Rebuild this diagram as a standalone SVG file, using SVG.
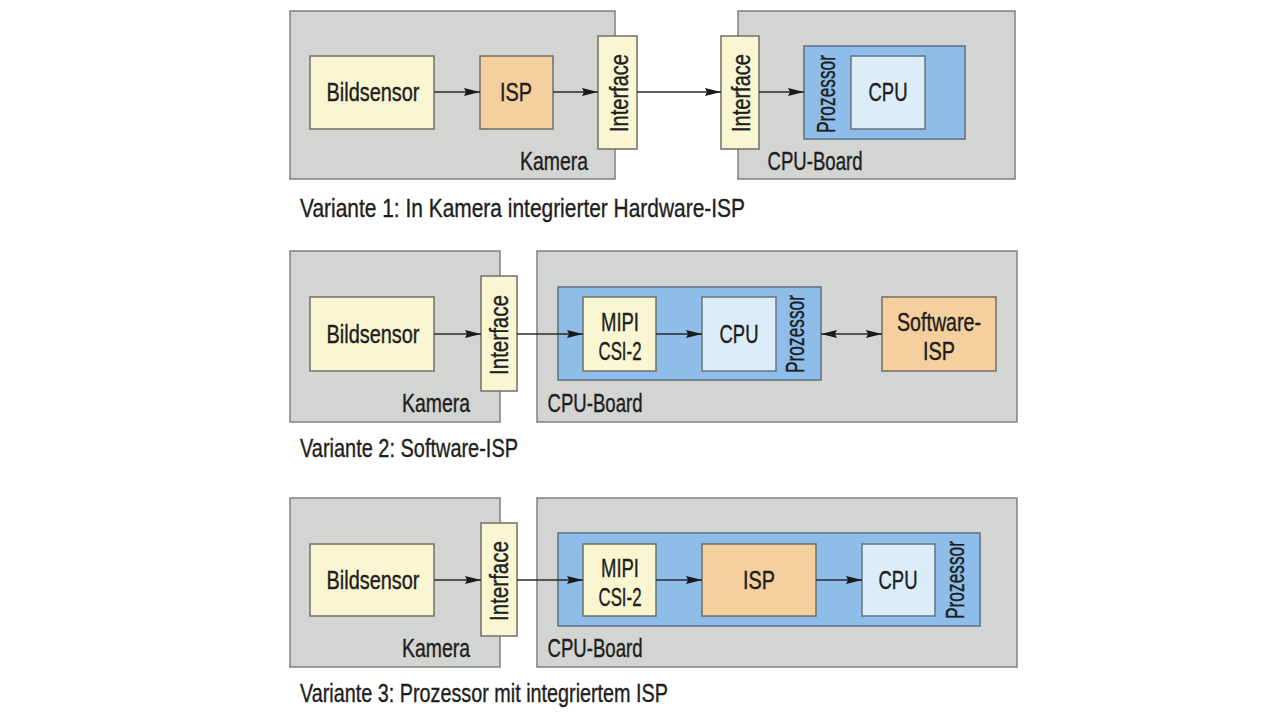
<svg xmlns="http://www.w3.org/2000/svg" width="1280" height="721" viewBox="0 0 1280 721">
<defs>
<style>
.grp{fill:#d3d5d2;stroke:#7f817f;stroke-width:1.5}
.yel{fill:#fbf6d2;stroke:#6f6f6a;stroke-width:1.5}
.org{fill:#f5cf9d;stroke:#6f6f6a;stroke-width:1.5}
.blu{fill:#8fbde9;stroke:#5c6f80;stroke-width:1.5}
.cpu{fill:#dcecf8;stroke:#6a747c;stroke-width:1.5}
.t{font-family:"Liberation Sans Narrow","Liberation Sans",Arial,sans-serif;font-size:26px;fill:#1e1e1e;stroke:#1e1e1e;stroke-width:0.4;text-anchor:middle}
.c{font-family:"Liberation Sans Narrow","Liberation Sans",Arial,sans-serif;font-size:25px;fill:#1e1e1e;stroke:#1e1e1e;stroke-width:0.35}
.ln{stroke:#2a2a2a;stroke-width:1.6;fill:none}
</style>
<marker id="ah" viewBox="0 0 16 8" refX="16" refY="4" markerWidth="16" markerHeight="8" markerUnits="userSpaceOnUse" orient="auto">
<path d="M0,0 L16,4 L0,8 L2,4 Z" fill="#1a1a1a"/>
</marker>
<marker id="as" viewBox="0 0 16 8" refX="0" refY="4" markerWidth="16" markerHeight="8" markerUnits="userSpaceOnUse" orient="auto">
<path d="M16,0 L0,4 L16,8 L14,4 Z" fill="#1a1a1a"/>
</marker>
</defs>
<rect width="1280" height="721" fill="#ffffff"/>

<!-- Variante 1 -->
<g id="v1-kamera">
<rect class="grp" x="290" y="11" width="325" height="168"/>
<text class="t" x="554" y="170" textLength="68" lengthAdjust="spacingAndGlyphs">Kamera</text>
</g>
<g id="v1-board">
<rect class="grp" x="738" y="11" width="277" height="168"/>
<text class="t" x="815" y="170" textLength="95" lengthAdjust="spacingAndGlyphs">CPU-Board</text>
</g>
<g id="v1-bildsensor">
<rect class="yel" x="310" y="56" width="124" height="73"/>
<text class="t" x="373" y="101" textLength="93" lengthAdjust="spacingAndGlyphs">Bildsensor</text>
</g>
<g id="v1-isp">
<rect class="org" x="480" y="56" width="73" height="73"/>
<text class="t" x="516" y="101" textLength="32" lengthAdjust="spacingAndGlyphs">ISP</text>
</g>
<g id="v1-if1">
<rect class="yel" x="598" y="36" width="39" height="113"/>
<text class="t" transform="translate(628,93) rotate(-90)" x="0" y="0" textLength="78" lengthAdjust="spacingAndGlyphs">Interface</text>
</g>
<g id="v1-if2">
<rect class="yel" x="721" y="36" width="38" height="113"/>
<text class="t" transform="translate(750,93) rotate(-90)" x="0" y="0" textLength="78" lengthAdjust="spacingAndGlyphs">Interface</text>
</g>
<g id="v1-prozessor">
<rect class="blu" x="804" y="46" width="161" height="93"/>
<text class="t" transform="translate(835,94) rotate(-90)" x="0" y="0" textLength="78" lengthAdjust="spacingAndGlyphs">Prozessor</text>
</g>
<g id="v1-cpu">
<rect class="cpu" x="851" y="56" width="74" height="73"/>
<text class="t" x="888" y="101" textLength="39" lengthAdjust="spacingAndGlyphs">CPU</text>
</g>
<g id="v1-caption">
<text class="c" x="300" y="217" textLength="445" lengthAdjust="spacingAndGlyphs">Variante 1: In Kamera integrierter Hardware-ISP</text>
</g>

<!-- Variante 2 -->
<g id="v2-kamera">
<rect class="grp" x="290" y="251" width="210" height="171"/>
<text class="t" x="436" y="412" textLength="68" lengthAdjust="spacingAndGlyphs">Kamera</text>
</g>
<g id="v2-board">
<rect class="grp" x="537" y="251" width="480" height="171"/>
<text class="t" x="595" y="412" textLength="95" lengthAdjust="spacingAndGlyphs">CPU-Board</text>
</g>
<g id="v2-bildsensor">
<rect class="yel" x="310" y="297" width="124" height="74"/>
<text class="t" x="373" y="343" textLength="93" lengthAdjust="spacingAndGlyphs">Bildsensor</text>
</g>
<g id="v2-if">
<rect class="yel" x="481" y="276" width="36" height="115"/>
<text class="t" transform="translate(508,335) rotate(-90)" x="0" y="0" textLength="80" lengthAdjust="spacingAndGlyphs">Interface</text>
</g>
<g id="v2-prozessor">
<rect class="blu" x="558" y="287" width="263" height="93"/>
<text class="t" transform="translate(804,334) rotate(-90)" x="0" y="0" textLength="78" lengthAdjust="spacingAndGlyphs">Prozessor</text>
</g>
<g id="v2-mipi">
<rect class="yel" x="583" y="297" width="73" height="74"/>
<text class="t" x="620" y="331" textLength="38" lengthAdjust="spacingAndGlyphs">MIPI</text>
<text class="t" x="620" y="360" textLength="43" lengthAdjust="spacingAndGlyphs">CSI-2</text>
</g>
<g id="v2-cpu">
<rect class="cpu" x="702" y="297" width="74" height="74"/>
<text class="t" x="739" y="343" textLength="39" lengthAdjust="spacingAndGlyphs">CPU</text>
</g>
<g id="v2-swisp">
<rect class="org" x="882" y="297" width="114" height="74"/>
<text class="t" x="939" y="331" textLength="84" lengthAdjust="spacingAndGlyphs">Software-</text>
<text class="t" x="939" y="360" textLength="32" lengthAdjust="spacingAndGlyphs">ISP</text>
</g>
<g id="v2-caption">
<text class="c" x="300" y="457" textLength="218" lengthAdjust="spacingAndGlyphs">Variante 2: Software-ISP</text>
</g>

<!-- Variante 3 -->
<g id="v3-kamera">
<rect class="grp" x="290" y="498" width="210" height="169"/>
<text class="t" x="436" y="657" textLength="68" lengthAdjust="spacingAndGlyphs">Kamera</text>
</g>
<g id="v3-board">
<rect class="grp" x="537" y="498" width="480" height="169"/>
<text class="t" x="595" y="657" textLength="95" lengthAdjust="spacingAndGlyphs">CPU-Board</text>
</g>
<g id="v3-bildsensor">
<rect class="yel" x="310" y="544" width="124" height="72"/>
<text class="t" x="373" y="589" textLength="93" lengthAdjust="spacingAndGlyphs">Bildsensor</text>
</g>
<g id="v3-if">
<rect class="yel" x="481" y="523" width="36" height="113"/>
<text class="t" transform="translate(508,581) rotate(-90)" x="0" y="0" textLength="80" lengthAdjust="spacingAndGlyphs">Interface</text>
</g>
<g id="v3-prozessor">
<rect class="blu" x="558" y="533" width="422" height="93"/>
<text class="t" transform="translate(964,580) rotate(-90)" x="0" y="0" textLength="78" lengthAdjust="spacingAndGlyphs">Prozessor</text>
</g>
<g id="v3-mipi">
<rect class="yel" x="583" y="544" width="73" height="72"/>
<text class="t" x="620" y="577" textLength="38" lengthAdjust="spacingAndGlyphs">MIPI</text>
<text class="t" x="620" y="606" textLength="43" lengthAdjust="spacingAndGlyphs">CSI-2</text>
</g>
<g id="v3-isp">
<rect class="org" x="702" y="544" width="114" height="72"/>
<text class="t" x="759" y="589" textLength="32" lengthAdjust="spacingAndGlyphs">ISP</text>
</g>
<g id="v3-cpu">
<rect class="cpu" x="862" y="544" width="73" height="72"/>
<text class="t" x="898" y="589" textLength="39" lengthAdjust="spacingAndGlyphs">CPU</text>
</g>
<g id="v3-caption">
<text class="c" x="300" y="702" textLength="368" lengthAdjust="spacingAndGlyphs">Variante 3: Prozessor mit integriertem ISP</text>
</g>

<g id="connectors">
<line class="ln" x1="434" y1="92" x2="480" y2="92" marker-end="url(#ah)"/>
<line class="ln" x1="553" y1="92" x2="598" y2="92" marker-end="url(#ah)"/>
<line class="ln" x1="637" y1="92" x2="721" y2="92" marker-end="url(#ah)"/>
<line class="ln" x1="759" y1="92" x2="804" y2="92" marker-end="url(#ah)"/>

<line class="ln" x1="434" y1="334" x2="481" y2="334" marker-end="url(#ah)"/>
<line class="ln" x1="517" y1="334" x2="583" y2="334" marker-end="url(#ah)"/>
<line class="ln" x1="656" y1="334" x2="702" y2="334" marker-end="url(#ah)"/>
<line class="ln" x1="821" y1="334" x2="882" y2="334" marker-start="url(#as)" marker-end="url(#ah)"/>

<line class="ln" x1="434" y1="580" x2="481" y2="580" marker-end="url(#ah)"/>
<line class="ln" x1="517" y1="580" x2="583" y2="580" marker-end="url(#ah)"/>
<line class="ln" x1="656" y1="580" x2="702" y2="580" marker-end="url(#ah)"/>
<line class="ln" x1="816" y1="580" x2="862" y2="580" marker-end="url(#ah)"/>
</g>
</svg>
